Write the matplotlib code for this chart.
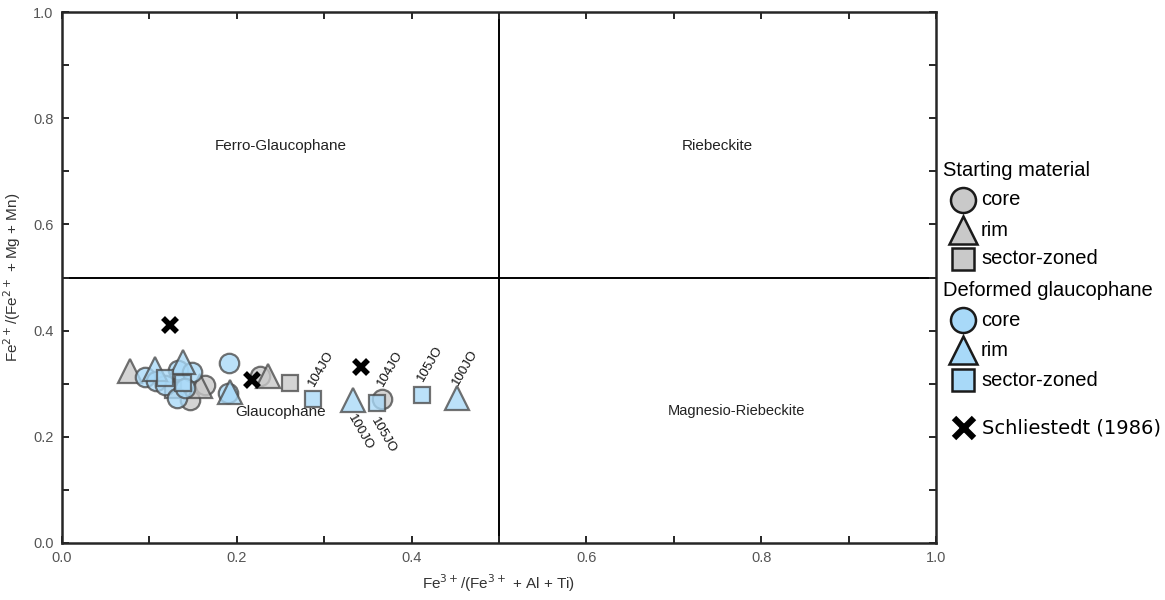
import matplotlib
matplotlib.use("Agg")
import matplotlib.pyplot as plt
from matplotlib.lines import Line2D

plt.rcParams['font.family'] = ['Liberation Sans', 'DejaVu Sans']

# Starting material
start_core_x = [0.227, 0.146, 0.164, 0.366]
start_core_y = [0.315, 0.269, 0.298, 0.271]
start_rim_x = [0.078, 0.158, 0.236]
start_rim_y = [0.324, 0.296, 0.315]
start_sector_x = [0.127, 0.261]
start_sector_y = [0.288, 0.301]

# Deformed glaucophane
def_core_x = [0.095, 0.108, 0.118, 0.133, 0.149, 0.132, 0.141, 0.191, 0.190]
def_core_y = [0.313, 0.305, 0.298, 0.326, 0.322, 0.273, 0.292, 0.339, 0.282]
def_rim_x = [0.106, 0.138, 0.192, 0.333, 0.452]
def_rim_y = [0.328, 0.341, 0.284, 0.269, 0.273]
def_sector_x = [0.118, 0.138, 0.287, 0.360, 0.412]
def_sector_y = [0.311, 0.301, 0.271, 0.264, 0.279]

# Schliestedt (1986)
lit_x = [0.124, 0.217, 0.342]
lit_y = [0.411, 0.307, 0.331]

# Sample labels: text, x, y, side of the mark
sample_labels = ["104JO", "100JO", "104JO", "105JO", "105JO", "100JO"]
sample_x = [0.287, 0.333, 0.366, 0.360, 0.412, 0.452]
sample_y = [0.271, 0.269, 0.271, 0.264, 0.279, 0.273]
sample_side = ["above", "below", "above", "below", "above", "above"]

# Field names
field_names = ["Ferro-Glaucophane", "Riebeckite", "Glaucophane", "Magnesio-Riebeckite"]
field_x = [0.25, 0.75, 0.25, 0.772]
field_y = [0.747, 0.747, 0.247, 0.249]
field_size = [11, 11, 11, 10.5]

GREY = "#c9c9c9"
BLUE = "#a8d9f8"
EDGE = "#4a4a4a"
SPINE = "#262626"
TICKC = "#555555"

fig = plt.figure(figsize=(11.65, 6.0), dpi=100)
ax = fig.add_axes([62 / 1165, 57 / 600, 874 / 1165, 531 / 600])
ax.set_xlim(0, 1)
ax.set_ylim(0, 1)

# field boundaries
ax.axvline(0.5, color="black", lw=1.4, zorder=1)
ax.axhline(0.5, color="black", lw=1.4, zorder=1)

for name, tx, ty, fs in zip(field_names, field_x, field_y, field_size):
    ax.text(tx, ty, name, ha="center", va="center", fontsize=fs, color="#222222")

mk = dict(linestyle="none", markeredgecolor=EDGE, markeredgewidth=1.6, alpha=0.78, zorder=3)
ax.plot(start_core_x, start_core_y, marker="o", markersize=14, markerfacecolor=GREY, **mk)
ax.plot(start_rim_x, start_rim_y, marker="^", markersize=17, markerfacecolor=GREY, **mk)
ax.plot(start_sector_x, start_sector_y, marker="s", markersize=11, markerfacecolor=GREY, **mk)
ax.plot(def_core_x, def_core_y, marker="o", markersize=14, markerfacecolor=BLUE, **mk)
ax.plot(def_rim_x, def_rim_y, marker="^", markersize=17, markerfacecolor=BLUE, **mk)
ax.plot(def_sector_x, def_sector_y, marker="s", markersize=11, markerfacecolor=BLUE, **mk)
ax.plot(lit_x, lit_y, linestyle="none", marker="x", markersize=10, markeredgewidth=4,
        color="black", zorder=4)

for lab, sx, sy, side in zip(sample_labels, sample_x, sample_y, sample_side):
    if side == "above":
        ax.annotate(lab, (sx, sy), xytext=(-1, 10), textcoords="offset points",
                    rotation=60, rotation_mode="anchor", ha="left", va="center",
                    fontsize=9.5, color="#111111")
    else:
        ax.annotate(lab, (sx, sy), xytext=(-2, -11), textcoords="offset points",
                    rotation=-60, rotation_mode="anchor", ha="left", va="center",
                    fontsize=9.5, color="#111111")

ticks = [i / 10 for i in range(11)]
labels = ["0.0", "", "0.2", "", "0.4", "", "0.6", "", "0.8", "", "1.0"]
ax.set_xticks(ticks)
ax.set_xticklabels(labels)
ax.set_yticks(ticks)
ax.set_yticklabels(labels)
ax.tick_params(direction="in", length=5, width=1.4, color=SPINE, labelcolor=TICKC,
               labelsize=10.5, top=True, right=True, pad=6)
for sp in ax.spines.values():
    sp.set_color(SPINE)
    sp.set_linewidth(1.8)

ax.set_xlabel("Fe$^{3+}$/(Fe$^{3+}$ + Al + Ti)", fontsize=11, color="#333333", labelpad=5)
ax.set_ylabel("Fe$^{2+}$/(Fe$^{2+}$ + Mg + Mn)", fontsize=11, color="#333333", labelpad=7)

# legend drawn in figure pixels
def fx(px):
    return px / 1165

def fy(py):
    return 1 - py / 600

legend_rows = [
    ("Starting material", None, None, 170),
    ("core", "o", GREY, 200),
    ("rim", "^", GREY, 230),
    ("sector-zoned", "s", GREY, 259),
    ("Deformed glaucophane", None, None, 290),
    ("core", "o", BLUE, 320),
    ("rim", "^", BLUE, 350),
    ("sector-zoned", "s", BLUE, 380),
]
legend_sizes = {"o": 18, "^": 20, "s": 16.5}
for text, marker, color, py in legend_rows:
    if marker is None:
        fig.text(fx(943), fy(py), text, ha="left", va="center", fontsize=14.5, color="black")
    else:
        fig.add_artist(Line2D([fx(963)], [fy(py)], marker=marker, markersize=legend_sizes[marker],
                              markerfacecolor=color, markeredgecolor="#1a1a1a",
                              markeredgewidth=1.8, linestyle="none",
                              transform=fig.transFigure))
        fig.text(fx(981), fy(py), text, ha="left", va="center", fontsize=14.5, color="black")

fig.add_artist(Line2D([fx(964)], [fy(428)], marker="x", markersize=14, markeredgewidth=4.5,
                      color="black", linestyle="none", transform=fig.transFigure))
fig.text(fx(982), fy(428), "Schliestedt (1986)", ha="left", va="center", fontsize=14,
         family=["DejaVu Sans"], color="black")

fig.savefig("out.png", dpi=100)
